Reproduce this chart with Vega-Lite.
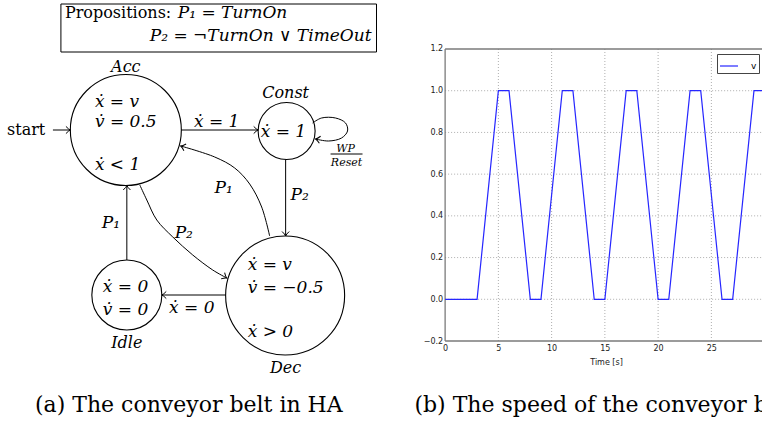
{
"$schema":"https://vega.github.io/schema/vega-lite/v6.json",
"width":763,"height":424,
"autosize":{"type":"fit","contains":"padding"},
"padding":0,
"background":"white",
"config":{"view":{"stroke":null}},
"datasets":{
 "nodes":[{"state":"Acc","x":126,"y":130,"r":55.5},{"state":"Const","x":287,"y":131,"r":28.5},{"state":"Idle","x":127,"y":295,"r":35},{"state":"Dec","x":285.5,"y":295.5,"r":59.5}],
 "edges":[{"edge":"start-Acc","x":53,"y":130,"x2":70.5,"y2":130},{"edge":"Acc-Const","x":181.5,"y":130,"x2":258.5,"y2":130},{"edge":"Const-Dec","x":286,"y":159.5,"x2":286,"y2":236},{"edge":"Idle-Acc","x":127,"y":260,"x2":127,"y2":185.5},{"edge":"Dec-Idle","x":226,"y":295,"x2":162,"y2":295},{"edge":"WP/Reset bar","x":331,"y":154,"x2":363,"y2":154}],
 "heads":[{"edge":"start-Acc","x":70.5,"y":130,"dir":0},{"edge":"Acc-Const","x":258.5,"y":130,"dir":0},{"edge":"Const-Dec","x":286,"y":236,"dir":90},{"edge":"Idle-Acc","x":127,"y":185.5,"dir":270},{"edge":"Dec-Idle","x":162,"y":295,"dir":180},{"edge":"Dec-Acc","x":181,"y":146,"dir":198},{"edge":"Acc-Dec","x":227,"y":278,"dir":30},{"edge":"Const-Const","x":316,"y":139,"dir":190}],
 "curves":[
  {"edge":"Dec-Acc","i":0,"x":270,"y":236},{"edge":"Dec-Acc","i":1,"x":262,"y":207},{"edge":"Dec-Acc","i":2,"x":250,"y":184},{"edge":"Dec-Acc","i":3,"x":235,"y":168},{"edge":"Dec-Acc","i":4,"x":215,"y":157},{"edge":"Dec-Acc","i":5,"x":181,"y":146},
  {"edge":"Acc-Dec","i":0,"x":140,"y":185},{"edge":"Acc-Dec","i":1,"x":147,"y":200},{"edge":"Acc-Dec","i":2,"x":157,"y":220},{"edge":"Acc-Dec","i":3,"x":173,"y":237},{"edge":"Acc-Dec","i":4,"x":193,"y":255},{"edge":"Acc-Dec","i":5,"x":213,"y":270},{"edge":"Acc-Dec","i":6,"x":227,"y":278},
  {"edge":"Const-Const","i":0,"x":313,"y":123},{"edge":"Const-Const","i":1,"x":322,"y":118},{"edge":"Const-Const","i":2,"x":336,"y":118},{"edge":"Const-Const","i":3,"x":346,"y":123},{"edge":"Const-Const","i":4,"x":348,"y":131},{"edge":"Const-Const","i":5,"x":342,"y":138},{"edge":"Const-Const","i":6,"x":329,"y":141},{"edge":"Const-Const","i":7,"x":316,"y":139}
 ],
 "box":[{"x":61,"x2":377,"y":4,"y2":52}],
 "labels":[
  {"label":"Acc","x":126,"y":72,"role":"state"},
  {"label":"Const","x":286,"y":98,"role":"state"},
  {"label":"Idle","x":127,"y":348,"role":"state"},
  {"label":"Dec","x":286,"y":373,"role":"state"},
  {"label":"ẋ = v","x":95,"y":107,"role":"flow"},
  {"label":"v̇ = 0.5","x":95,"y":127,"role":"flow"},
  {"label":"ẋ < 1","x":95,"y":170,"role":"flow"},
  {"label":"ẋ = 1","x":261,"y":137,"role":"flow"},
  {"label":"ẋ = 0","x":103,"y":292,"role":"flow"},
  {"label":"v̇ = 0","x":103,"y":315,"role":"flow"},
  {"label":"ẋ = v","x":248,"y":270,"role":"flow"},
  {"label":"v̇ = −0.5","x":248,"y":293,"role":"flow"},
  {"label":"ẋ > 0","x":248,"y":337,"role":"flow"},
  {"label":"ẋ = 1","x":217,"y":127,"role":"guard"},
  {"label":"P₁","x":224,"y":193,"role":"guard"},
  {"label":"P₂","x":300,"y":200,"role":"guard"},
  {"label":"P₁","x":111,"y":228,"role":"guard"},
  {"label":"P₂","x":184,"y":238,"role":"guard"},
  {"label":"ẋ = 0","x":192,"y":313,"role":"guard"},
  {"label":"WP","x":346,"y":152,"role":"reset"},
  {"label":"Reset","x":347,"y":166,"role":"reset"},
  {"label":"start","x":7,"y":135,"role":"plain"},
  {"label":"Propositions:","x":65,"y":18,"role":"plain"},
  {"label":"P₁ = TurnOn","x":178,"y":18,"role":"prop"},
  {"label":"P₂ = ¬TurnOn ∨ TimeOut","x":150,"y":41,"role":"prop"},
  {"label":"(a) The conveyor belt in HA","x":35,"y":412,"role":"caption"},
  {"label":"(b) The speed of the conveyor belt","x":415,"y":412,"role":"caption"}
 ],
 "speed":[{"t":0,"v":0,"series":"v"},{"t":3,"v":0,"series":"v"},{"t":5,"v":1,"series":"v"},{"t":6,"v":1,"series":"v"},{"t":8,"v":0,"series":"v"},{"t":9,"v":0,"series":"v"},{"t":11,"v":1,"series":"v"},{"t":12,"v":1,"series":"v"},{"t":14,"v":0,"series":"v"},{"t":15,"v":0,"series":"v"},{"t":17,"v":1,"series":"v"},{"t":18,"v":1,"series":"v"},{"t":20,"v":0,"series":"v"},{"t":21,"v":0,"series":"v"},{"t":23,"v":1,"series":"v"},{"t":24,"v":1,"series":"v"},{"t":26,"v":0,"series":"v"},{"t":27,"v":0,"series":"v"},{"t":29,"v":1,"series":"v"},{"t":30,"v":1,"series":"v"}],
 "xgrid":[{"t":5},{"t":10},{"t":15},{"t":20},{"t":25}],
 "ygrid":[{"v":0},{"v":0.2},{"v":0.4},{"v":0.6},{"v":0.8},{"v":1.0}]
},
"layer":[
 {"layer":[
  {"data":{"name":"xgrid"},"mark":{"type":"rule","color":"#999","strokeWidth":0.8,"strokeDash":[1,2]},
   "encoding":{"x":{"field":"t","type":"quantitative","scale":{"domain":[-41.795,29.754],"nice":false,"zero":false}},
               "y":{"datum":-0.2,"type":"quantitative","scale":{"domain":[-0.5979,1.4349],"nice":false,"zero":false}},
               "y2":{"datum":1.2}}},
  {"data":{"name":"ygrid"},"mark":{"type":"rule","color":"#999","strokeWidth":0.8,"strokeDash":[1,2]},
   "encoding":{"y":{"field":"v","type":"quantitative","scale":{"domain":[-0.5979,1.4349],"nice":false,"zero":false}},
               "x":{"datum":0,"type":"quantitative","scale":{"domain":[-41.795,29.754],"nice":false,"zero":false}},
               "x2":{"datum":29.754}}},
  {"data":{"values":[{"side":"left","t":0,"t2":0,"v":-0.2,"v2":1.2},{"side":"top","t":0,"t2":29.754,"v":1.2,"v2":1.2},{"side":"bottom","t":0,"t2":29.754,"v":-0.2,"v2":-0.2}]},
   "mark":{"type":"rule","color":"#7a7a7a","strokeWidth":1.3},
   "encoding":{"x":{"field":"t","type":"quantitative","scale":{"domain":[-41.795,29.754],"nice":false,"zero":false}},"x2":{"field":"t2"},
               "y":{"field":"v","type":"quantitative","scale":{"domain":[-0.5979,1.4349],"nice":false,"zero":false}},"y2":{"field":"v2"}}},
  {"data":{"name":"speed"},"mark":{"type":"line","strokeWidth":1.2,"clip":true},
   "encoding":{"x":{"field":"t","type":"quantitative","scale":{"domain":[-41.795,29.754],"nice":false,"zero":false}},
               "y":{"field":"v","type":"quantitative","scale":{"domain":[-0.5979,1.4349],"nice":false,"zero":false}},
               "color":{"field":"series","type":"nominal","scale":{"range":["#2626ff"]},
                        "legend":{"orient":"none","legendX":717,"legendY":54,"title":null,"symbolType":"stroke","symbolSize":324,"symbolStrokeWidth":1.2,"labelFont":"DejaVu Sans","labelFontSize":9,"labelColor":"#000","labelOffset":12,"strokeColor":"#444","fillColor":"#fff","padding":2,"cornerRadius":0}}}}
 ],
 "encoding":{
   "x":{"axis":{"orient":"bottom","offset":-83,"values":[0,5,10,15,20,25],"format":"d","grid":false,"domain":false,"ticks":false,"labelFont":"DejaVu Sans","labelFontSize":8,"labelColor":"#222","labelPadding":3,"labelFlush":false,"labelOverlap":false,
                            "title":"Time [s]","titleFont":"DejaVu Sans","titleFontSize":8,"titleFontWeight":"normal","titleColor":"#222","titleX":606,"titleY":21,"titleAlign":"center","titleBaseline":"middle"}},
   "y":{"axis":{"orient":"left","offset":-445.7,"values":[-0.2,0,0.2,0.4,0.6,0.8,1,1.2],"format":".1f","grid":false,"domain":false,"ticks":false,"labelFont":"DejaVu Sans","labelFontSize":8,"labelColor":"#222","labelPadding":3,"labelFlush":false,"labelOverlap":false,"title":null}}
 }},
 {"layer":[
  {"data":{"name":"box"},"mark":{"type":"rect","filled":false,"stroke":"black","strokeWidth":1},
   "encoding":{"x":{"field":"x","type":"quantitative","scale":{"domain":[0,763],"nice":false,"zero":false},"axis":null},"x2":{"field":"x2"},
               "y":{"field":"y","type":"quantitative","scale":{"domain":[0,424],"nice":false,"zero":false,"reverse":true},"axis":null},"y2":{"field":"y2"}}},
  {"data":{"name":"nodes"},"mark":{"type":"point","shape":"circle","filled":false,"stroke":"black","strokeWidth":1.1,"opacity":1},
   "encoding":{"x":{"field":"x","type":"quantitative","scale":{"domain":[0,763],"nice":false,"zero":false},"axis":null},
               "y":{"field":"y","type":"quantitative","scale":{"domain":[0,424],"nice":false,"zero":false,"reverse":true},"axis":null},
               "size":{"field":"r","type":"quantitative","scale":{"type":"pow","exponent":2,"domain":[0,100],"range":[0,40000]},"legend":null}}},
  {"data":{"name":"edges"},"mark":{"type":"rule","color":"black","strokeWidth":1},
   "encoding":{"x":{"field":"x","type":"quantitative","scale":{"domain":[0,763],"nice":false,"zero":false},"axis":null},"x2":{"field":"x2"},
               "y":{"field":"y","type":"quantitative","scale":{"domain":[0,424],"nice":false,"zero":false,"reverse":true},"axis":null},"y2":{"field":"y2"}}},
  {"data":{"name":"curves"},"mark":{"type":"line","color":"black","strokeWidth":1,"interpolate":"catmull-rom"},
   "encoding":{"x":{"field":"x","type":"quantitative","scale":{"domain":[0,763],"nice":false,"zero":false},"axis":null},
               "y":{"field":"y","type":"quantitative","scale":{"domain":[0,424],"nice":false,"zero":false,"reverse":true},"axis":null},
               "detail":{"field":"edge"},"order":{"field":"i","type":"quantitative"}}},
  {"data":{"name":"heads"},"mark":{"type":"point","shape":"M-1,-0.8Q-0.4,-0.15,0,0Q-0.4,0.15,-1,0.8","filled":false,"stroke":"black","strokeWidth":1,"size":80,"opacity":1},
   "encoding":{"x":{"field":"x","type":"quantitative","scale":{"domain":[0,763],"nice":false,"zero":false},"axis":null},
               "y":{"field":"y","type":"quantitative","scale":{"domain":[0,424],"nice":false,"zero":false,"reverse":true},"axis":null},
               "angle":{"field":"dir","type":"quantitative","scale":null}}},
  {"data":{"name":"labels"},"transform":[{"filter":"datum.role === 'state'"}],
   "mark":{"type":"text","font":"DejaVu Serif","fontStyle":"italic","fontSize":16,"align":"center","baseline":"alphabetic","color":"black"},
   "encoding":{"x":{"field":"x","type":"quantitative","scale":{"domain":[0,763],"nice":false,"zero":false},"axis":null},
               "y":{"field":"y","type":"quantitative","scale":{"domain":[0,424],"nice":false,"zero":false,"reverse":true},"axis":null},
               "text":{"field":"label"}}},
  {"data":{"name":"labels"},"transform":[{"filter":"datum.role === 'flow' || datum.role === 'prop'"}],
   "mark":{"type":"text","font":"DejaVu Serif","fontStyle":"italic","fontSize":17,"align":"left","baseline":"alphabetic","color":"black"},
   "encoding":{"x":{"field":"x","type":"quantitative","scale":{"domain":[0,763],"nice":false,"zero":false},"axis":null},
               "y":{"field":"y","type":"quantitative","scale":{"domain":[0,424],"nice":false,"zero":false,"reverse":true},"axis":null},
               "text":{"field":"label"}}},
  {"data":{"name":"labels"},"transform":[{"filter":"datum.role === 'guard'"}],
   "mark":{"type":"text","font":"DejaVu Serif","fontStyle":"italic","fontSize":17,"align":"center","baseline":"alphabetic","color":"black"},
   "encoding":{"x":{"field":"x","type":"quantitative","scale":{"domain":[0,763],"nice":false,"zero":false},"axis":null},
               "y":{"field":"y","type":"quantitative","scale":{"domain":[0,424],"nice":false,"zero":false,"reverse":true},"axis":null},
               "text":{"field":"label"}}},
  {"data":{"name":"labels"},"transform":[{"filter":"datum.role === 'reset'"}],
   "mark":{"type":"text","font":"DejaVu Serif","fontStyle":"italic","fontSize":11,"align":"center","baseline":"alphabetic","color":"black"},
   "encoding":{"x":{"field":"x","type":"quantitative","scale":{"domain":[0,763],"nice":false,"zero":false},"axis":null},
               "y":{"field":"y","type":"quantitative","scale":{"domain":[0,424],"nice":false,"zero":false,"reverse":true},"axis":null},
               "text":{"field":"label"}}},
  {"data":{"name":"labels"},"transform":[{"filter":"datum.role === 'plain'"}],
   "mark":{"type":"text","font":"DejaVu Serif","fontSize":16,"align":"left","baseline":"alphabetic","color":"black"},
   "encoding":{"x":{"field":"x","type":"quantitative","scale":{"domain":[0,763],"nice":false,"zero":false},"axis":null},
               "y":{"field":"y","type":"quantitative","scale":{"domain":[0,424],"nice":false,"zero":false,"reverse":true},"axis":null},
               "text":{"field":"label"}}},
  {"data":{"name":"labels"},"transform":[{"filter":"datum.role === 'caption'"}],
   "mark":{"type":"text","font":"DejaVu Serif","fontSize":22,"align":"left","baseline":"alphabetic","color":"black","clip":true},
   "encoding":{"x":{"field":"x","type":"quantitative","scale":{"domain":[0,763],"nice":false,"zero":false},"axis":null},
               "y":{"field":"y","type":"quantitative","scale":{"domain":[0,424],"nice":false,"zero":false,"reverse":true},"axis":null},
               "text":{"field":"label"}}}
 ]}
],
"resolve":{"scale":{"x":"independent","y":"independent"},"axis":{"x":"independent","y":"independent"}}
}
